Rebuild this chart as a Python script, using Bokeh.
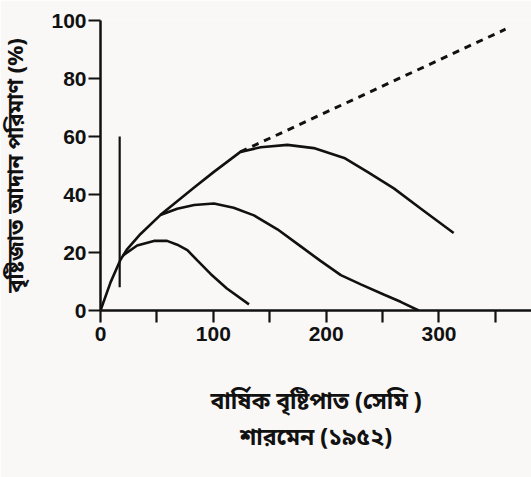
from bokeh.plotting import figure
from bokeh.models import Range1d, FixedTicker
from bokeh.embed import file_html
from bokeh.resources import INLINE

# Annual rainfall (cm) vs percentage
env_x = [0, 8.9, 17.7, 23.7, 35.5, 53, 68, 83, 100.5, 124, 142, 165.6, 189, 216, 236.6, 260, 284, 313]
env_y = [0, 9.7, 17.5, 21.2, 26.4, 32.9, 37.7, 42.4, 47.8, 54.7, 56.3, 57.1, 56.0, 52.6, 47.8, 42.1, 35.1, 26.7]

mid_x = [53, 68, 83, 100.5, 118, 136, 156.8, 177.5, 195, 213, 230.7, 251, 266, 282]
mid_y = [32.9, 35.1, 36.4, 36.9, 35.4, 32.8, 28.0, 22.1, 17.1, 12.2, 9.0, 5.5, 3.0, 0]

low_x = [20, 32.5, 47.3, 59, 68, 77, 86, 97.6, 112, 131.6]
low_y = [19.0, 22.4, 24.0, 24.0, 22.7, 20.8, 17.2, 12.6, 7.6, 2.1]

dash_x = [124, 359]
dash_y = [54.7, 97]

vline_x = [17, 17]
vline_y = [8, 60]

x_ticks = [0, 50, 100, 150, 200, 250, 300, 350]
x_tick_labels = {0: "0", 50: "", 100: "100", 150: "", 200: "200", 250: "", 300: "300", 350: ""}
y_ticks = [0, 20, 40, 60, 80, 100]

x_title = "বার্ষিক বৃষ্টিপাত (সেমি )\nশারমেন (১৯৫২)"
y_title = "বৃষ্টিজাত আদান পরিমাণ (%)"

BENG = "'Noto Sans Bengali', 'Noto Sans', 'Lohit Bengali', sans-serif"
BG = "#faf8f7"

p = figure(width=531, height=477, output_backend="svg", toolbar_location=None,
           x_range=Range1d(0, 382), y_range=Range1d(0, 100),
           min_border_left=100, min_border_right=0, min_border_top=20, min_border_bottom=167,
           background_fill_color=BG, border_fill_color=BG)
p.outline_line_color = None
p.xgrid.visible = False
p.ygrid.visible = False

for ax in (p.xaxis[0], p.yaxis[0]):
    ax.axis_line_width = 2.5
    ax.axis_line_color = "#111111"
    ax.major_tick_line_width = 2.2
    ax.major_tick_line_color = "#111111"
    ax.major_tick_out = 12
    ax.major_tick_in = 0
    ax.minor_tick_line_color = None
    ax.major_label_text_font = "'Liberation Sans', Arial, sans-serif"
    ax.major_label_text_font_style = "bold"
    ax.major_label_text_font_size = "21px"
    ax.major_label_text_color = "#111111"
    ax.axis_label_text_font = BENG
    ax.axis_label_text_font_style = "bold"
    ax.axis_label_text_color = "#111111"

p.xaxis.ticker = FixedTicker(ticks=x_ticks)
p.xaxis.major_label_overrides = x_tick_labels
p.xaxis.major_label_standoff = 4
p.xaxis.axis_label = x_title
p.xaxis.axis_label_text_font_size = "23px"
p.xaxis.axis_label_standoff = 44

p.yaxis.ticker = FixedTicker(ticks=y_ticks)
p.yaxis.major_label_standoff = 2
p.yaxis.axis_label = y_title
p.yaxis.axis_label_text_font_size = "22px"
p.yaxis.axis_label_standoff = 16

lw = 2.6
p.line(env_x, env_y, line_color="#111111", line_width=lw)
p.line(mid_x, mid_y, line_color="#111111", line_width=lw)
p.line(low_x, low_y, line_color="#111111", line_width=lw)
p.line(dash_x, dash_y, line_color="#111111", line_width=3, line_dash="7 6")
p.line(vline_x, vline_y, line_color="#111111", line_width=2.2)

open("out.html", "w").write(file_html(p, INLINE))
